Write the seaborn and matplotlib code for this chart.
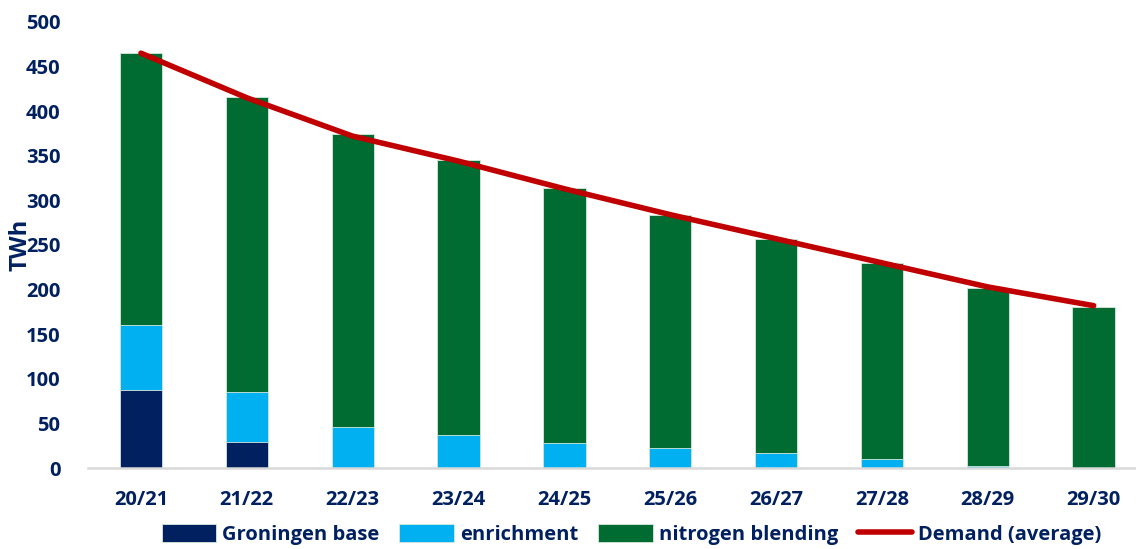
import numpy as np
import pandas as pd
import matplotlib
matplotlib.use("Agg")
import matplotlib.pyplot as plt
import seaborn as sns

# données (TWh)
years = ["20/21", "21/22", "22/23", "23/24", "24/25", "25/26", "26/27", "27/28", "28/29", "29/30"]
groningen = [88, 29, 0, 0, 0, 0, 0, 0, 0, 0]
enrichment = [72, 56, 46, 37, 28, 22, 17, 10, 2.5, 0]
nitrogen = [305, 331, 328, 308, 286, 262, 240, 220, 199, 181]
demand = [465, 415, 372, 344, 313, 284, 257, 230, 203, 182]

navy = "#002060"
col_gron = "#002060"
col_enr = "#00B0F0"
col_nit = "#006C31"
col_dem = "#C00000"

df = pd.DataFrame({"year": years, "groningen": groningen,
                   "enrichment": enrichment, "nitrogen": nitrogen, "demand": demand})
df["lvl_enr"] = df["groningen"] + df["enrichment"]
df["lvl_tot"] = df["lvl_enr"] + df["nitrogen"]
df["pos"] = np.arange(len(df))

sns.set_style("white")
plt.rcParams["font.family"] = ["Open Sans", "DejaVu Sans"]
plt.rcParams["font.weight"] = "bold"

fig = plt.figure(figsize=(11.36, 5.49), dpi=100)
ax = fig.add_axes([0.0775, 0.1475, 0.9225, 0.8125])

# empilement par superposition des cumuls
kw = dict(width=0.4, edgecolor="#d8e8dc", linewidth=0.6, saturation=1, ax=ax)
sns.barplot(data=df, x="year", y="lvl_tot", color=col_nit, label="nitrogen blending", **kw)
sns.barplot(data=df, x="year", y="lvl_enr", color=col_enr, label="enrichment", **kw)
sns.barplot(data=df, x="year", y="groningen", color=col_gron, label="Groningen base", **kw)
sns.lineplot(data=df, x="pos", y="demand", color=col_dem, linewidth=4,
             solid_capstyle="round", label="Demand (average)", ax=ax)

ax.set_xlim(-0.5, 9.4)
ax.set_ylim(0, 500)
ax.set_yticks(np.arange(0, 501, 50))
ax.set_xticks(np.arange(len(years)))
ax.set_xticklabels(years)
ax.set_xlabel("")
ax.set_ylabel("TWh", fontsize=17, fontweight="bold", color=navy)
ax.yaxis.set_label_coords(-0.053, 0.5)
ax.tick_params(axis="both", length=0, labelsize=14.5, labelcolor=navy)
ax.tick_params(axis="x", pad=16)
ax.tick_params(axis="y", pad=20)
for lab in ax.get_xticklabels() + ax.get_yticklabels():
    lab.set_fontweight("bold")

for s in ["top", "right", "left"]:
    ax.spines[s].set_visible(False)
ax.spines["bottom"].set_color("#D9D9D9")
ax.spines["bottom"].set_linewidth(1.8)

h, l = ax.get_legend_handles_labels()
ordre = ["Groningen base", "enrichment", "nitrogen blending", "Demand (average)"]
hd = dict(zip(l, h))
if ax.get_legend():
    ax.get_legend().remove()
leg = fig.legend([hd[k] for k in ordre], ordre, loc="center", bbox_to_anchor=(0.556, 0.027),
                 ncol=4, frameon=False, handlelength=2.7, handleheight=1.0,
                 handletextpad=0.3, columnspacing=1.0,
                 prop={"weight": "bold", "size": 14.5})
for t in leg.get_texts():
    t.set_color(navy)

plt.savefig("out.png", dpi=100)
